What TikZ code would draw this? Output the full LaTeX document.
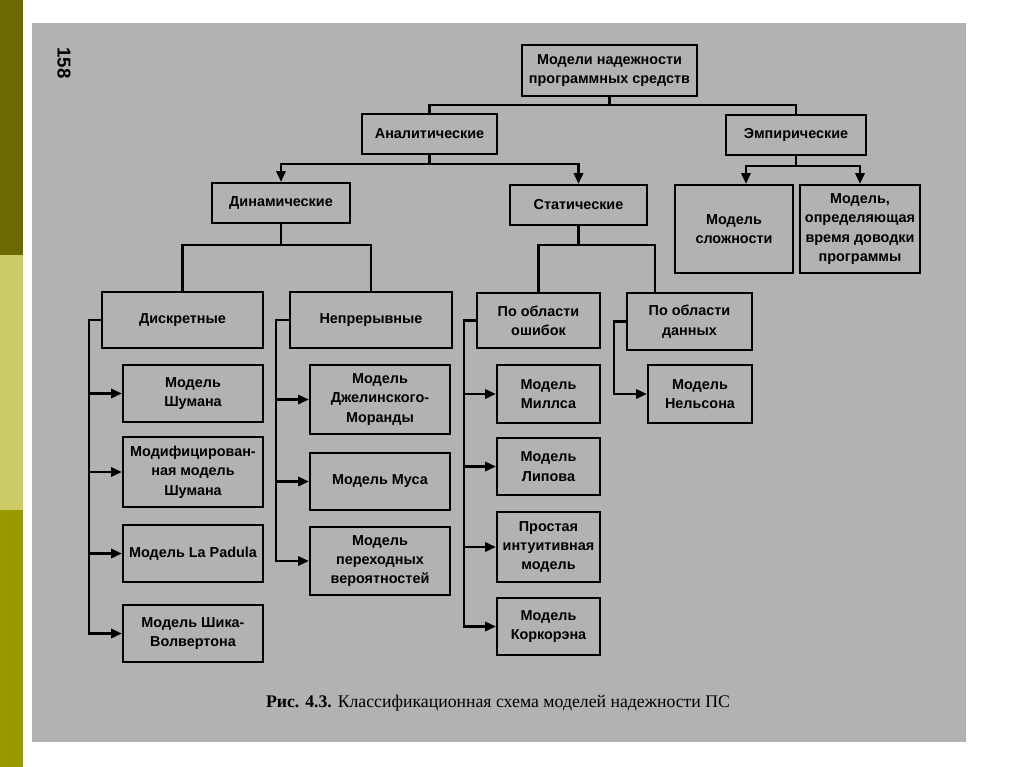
\documentclass[tikz,border=0pt]{standalone}
\usepackage{fontspec}
\setmainfont{Liberation Serif}
\setsansfont{Liberation Sans}
\usetikzlibrary{arrows.meta}
\usetikzlibrary{positioning}

\definecolor{paper}{RGB}{178,178,178}
\definecolor{oliveA}{RGB}{106,106,0}
\definecolor{oliveB}{RGB}{204,204,102}
\definecolor{oliveC}{RGB}{153,153,0}
\definecolor{edgeY}{RGB}{255,255,210}

\tikzset{bx/.style 2 args={minimum width=#1*0.75pt, minimum height=#2*0.75pt}}

\begin{document}
\begin{tikzpicture}[x=0.75pt, y=-0.75pt, line width=1.7pt, >={Triangle[length=8pt,width=7pt]}]
            \tikzstyle{box}=[draw, line width=1.8pt, align=center, inner sep=1pt, font=\sffamily\bfseries\fontsize{10.8}{14.5}\selectfont]

            % page and side strip
            \useasboundingbox (0,0) rectangle (1024,767);
            \fill[oliveA] (0,0) rectangle (23,255);
            \fill[oliveB] (0,255) rectangle (23,510);
            \fill[oliveC] (0,510) rectangle (23,767);
            \fill[edgeY] (23,0) rectangle (25,767);
            \fill[paper] (32,23) rectangle (966,742);

            \node[rotate=-90, font=\sffamily\bfseries\fontsize{14}{16}\selectfont] (pg) at (64,63) {158};

            % top levels
            \node[box, bx={175}{51}] (root) at (609.5,70.5) {Модели надежности\\программных средств};
            \node[box, bx={135}{40}] (anal) at (429.5,134) {Аналитические};
            \node[box, bx={140}{40}] (emp) at (796,135) {Эмпирические};
            \node[box, bx={138}{40}] (dyn) at (281,203) {Динамические};
            \node[box, bx={137}{40}] (stat) at (578.5,205) {Статические};
            \node[box, bx={118}{88}] (slozh) at (734,229) {Модель\\сложности};
            \node[box, bx={120}{88}] (vrem) at (860,229) {Модель,\\определяющая\\время доводки\\программы};

            \node[box, bx={161}{56}] (disc) at (182.5,320) {Дискретные};
            \node[box, bx={162}{56}] (cont) at (371,320) {Непрерывные};
            \node[box, bx={123}{55}] (errs) at (538.5,320.5) {По области\\ошибок};
            \node[box, bx={125}{57}] (data) at (689.5,321.5) {По области\\данных};

            % leaves
            \node[box, bx={140}{57}] (shum) at (193,393.5) {Модель\\Шумана};
            \node[box, bx={140}{70}] (mshum) at (193,472) {Модифицирован-\\ная модель\\Шумана};
            \node[box, bx={140}{57}] (lap) at (193,553.5) {Модель La Padula};
            \node[box, bx={140}{57}] (shika) at (193,633.5) {Модель Шика-\\Волвертона};

            \node[box, bx={140}{69}] (dzh) at (380,399.5) {Модель\\Джелинского-\\Моранды};
            \node[box, bx={140}{57}] (musa) at (380,481.5) {Модель Муса};
            \node[box, bx={140}{68}] (perekh) at (380,561) {Модель\\переходных\\вероятностей};

            \node[box, bx={103}{58}] (mills) at (548.5,394) {Модель\\Миллса};
            \node[box, bx={103}{57}] (lipov) at (548.5,466.5) {Модель\\Липова};
            \node[box, bx={103}{70}] (prost) at (548.5,547) {Простая\\интуитивная\\модель};
            \node[box, bx={103}{57}] (kork) at (548.5,626.5) {Модель\\Коркорэна};

            \node[box, bx={104}{58}] (nels) at (700,394) {Модель\\Нельсона};

            % connectors
            \draw (root.south) -- ++(0,8) -| (anal.north);
            \draw (root.south) -- ++(0,8) -| (emp.north);
            \draw[->] (anal.south) -- ++(0,9) -| (dyn.north);
            \draw[->] (anal.south) -- ++(0,9) -| (stat.north);
            \draw[->] (emp.south) -- ++(0,10) -| ([xshift=9pt]slozh.north);
            \draw[->] (emp.south) -- ++(0,10) -| (vrem.north);
            \draw (dyn.south) -- ++(0,21) -| (disc.north);
            \draw (dyn.south) -- ++(0,21) -| (cont.north);
            \draw (stat.south) -- ++(0,19) -| (errs.north);
            \draw (stat.south) -- ++(0,19) -| ([xshift=-26pt]data.north);

            \foreach \c in {shum,mshum,lap,shika}
                \draw[->] (disc.west) -- ++(-12,0) |- (\c.west);
            \foreach \c in {dzh,musa,perekh}
                \draw[->] (cont.west) -- ++(-13,0) |- (\c.west);
            \foreach \c in {mills,lipov,prost,kork}
                \draw[->] (errs.west) -- ++(-12,0) |- (\c.west);
            \draw[->] (data.west) -- ++(-12,0) |- (nels.west);

            \node[font=\fontsize{13.3}{15}\selectfont] (cap) at (498,703) {\textbf{Рис. 4.3.} Классификационная схема моделей надежности ПС};
        \end{tikzpicture}
\end{document}
